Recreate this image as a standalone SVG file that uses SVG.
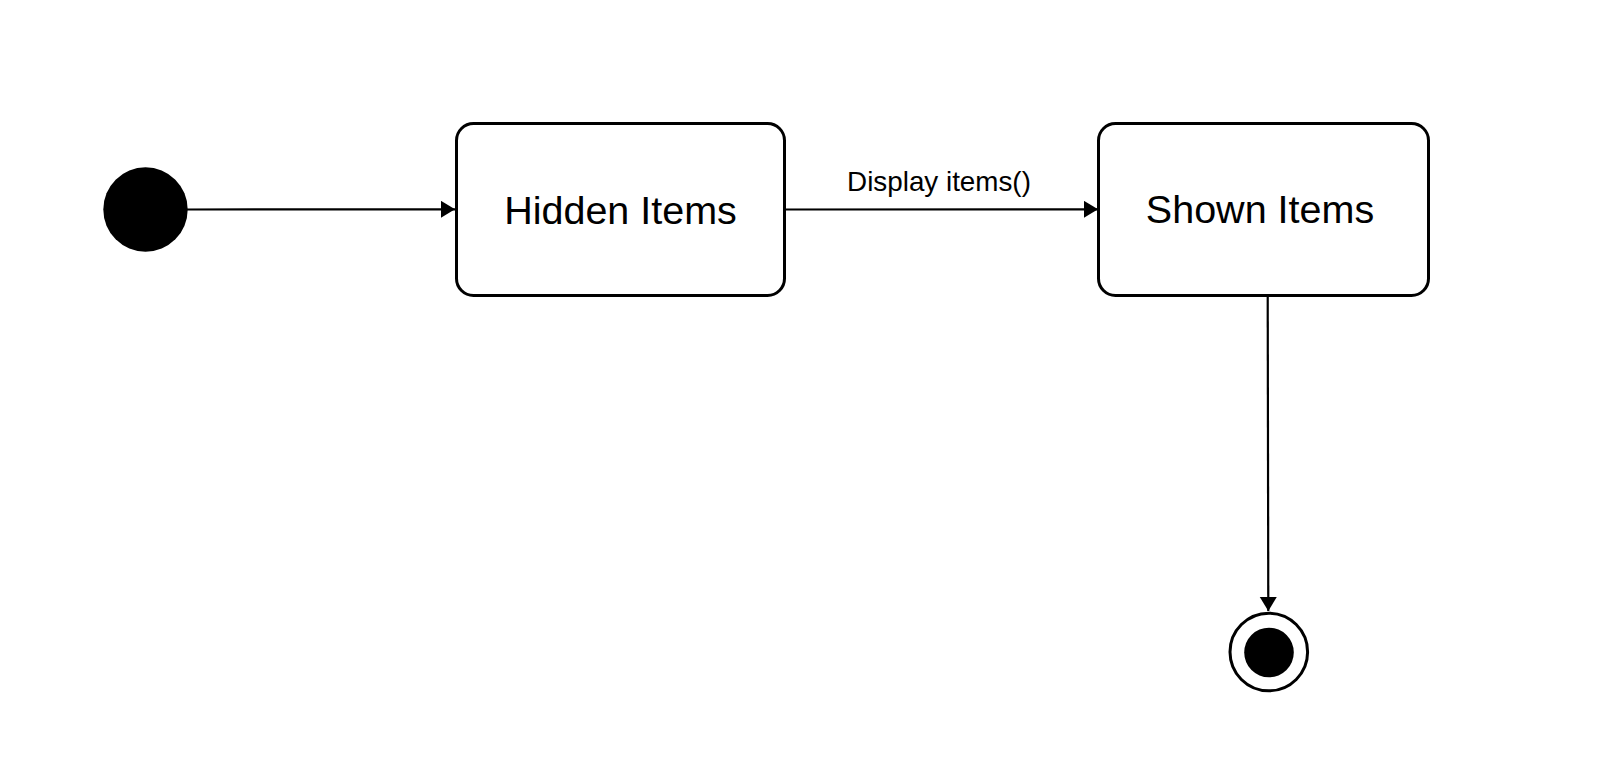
<svg xmlns="http://www.w3.org/2000/svg" width="1600" height="771" viewBox="0 0 1600 771">
<style>
.state{fill:#fff;stroke:#000;stroke-width:3}
.lbl{font-family:"Liberation Sans",Arial,sans-serif;font-size:39.5px;fill:#000;text-anchor:middle}
.elbl{font-family:"Liberation Sans",Arial,sans-serif;font-size:27.8px;fill:#000;text-anchor:middle}
.edge{fill:none;stroke:#000;stroke-width:2.2;marker-end:url(#arr)}
</style>
<defs>
<marker id="arr" markerUnits="userSpaceOnUse" markerWidth="16" markerHeight="18" refX="14" refY="8.5" orient="auto">
<path d="M0,0 L14,8.5 L0,17 z" fill="#000"/>
</marker>
</defs>
<rect width="1600" height="771" fill="#fff"/>
<g id="connectors">
<line class="edge" x1="187" y1="209.5" x2="455" y2="209.3"/>
<line class="edge" x1="785" y1="209.5" x2="1098" y2="209.3"/>
<line class="edge" x1="1267.7" y1="297" x2="1268.3" y2="611"/>
<text class="elbl" x="939" y="191">Display items()</text>
</g>
<g id="initial">
<circle cx="145.5" cy="209.5" r="42.2" fill="#000"/>
</g>
<g id="hidden-items">
<rect class="state" x="456.5" y="123.5" width="328" height="172" rx="17"/>
<text class="lbl" x="620.5" y="223.5">Hidden Items</text>
</g>
<g id="shown-items">
<rect class="state" x="1098.5" y="123.5" width="330" height="172" rx="17"/>
<text class="lbl" x="1260" y="223">Shown Items</text>
</g>
<g id="final">
<circle cx="1268.8" cy="652" r="38.8" fill="#fff" stroke="#000" stroke-width="3"/>
<circle cx="1269" cy="652.5" r="24.8" fill="#000"/>
</g>
</svg>
